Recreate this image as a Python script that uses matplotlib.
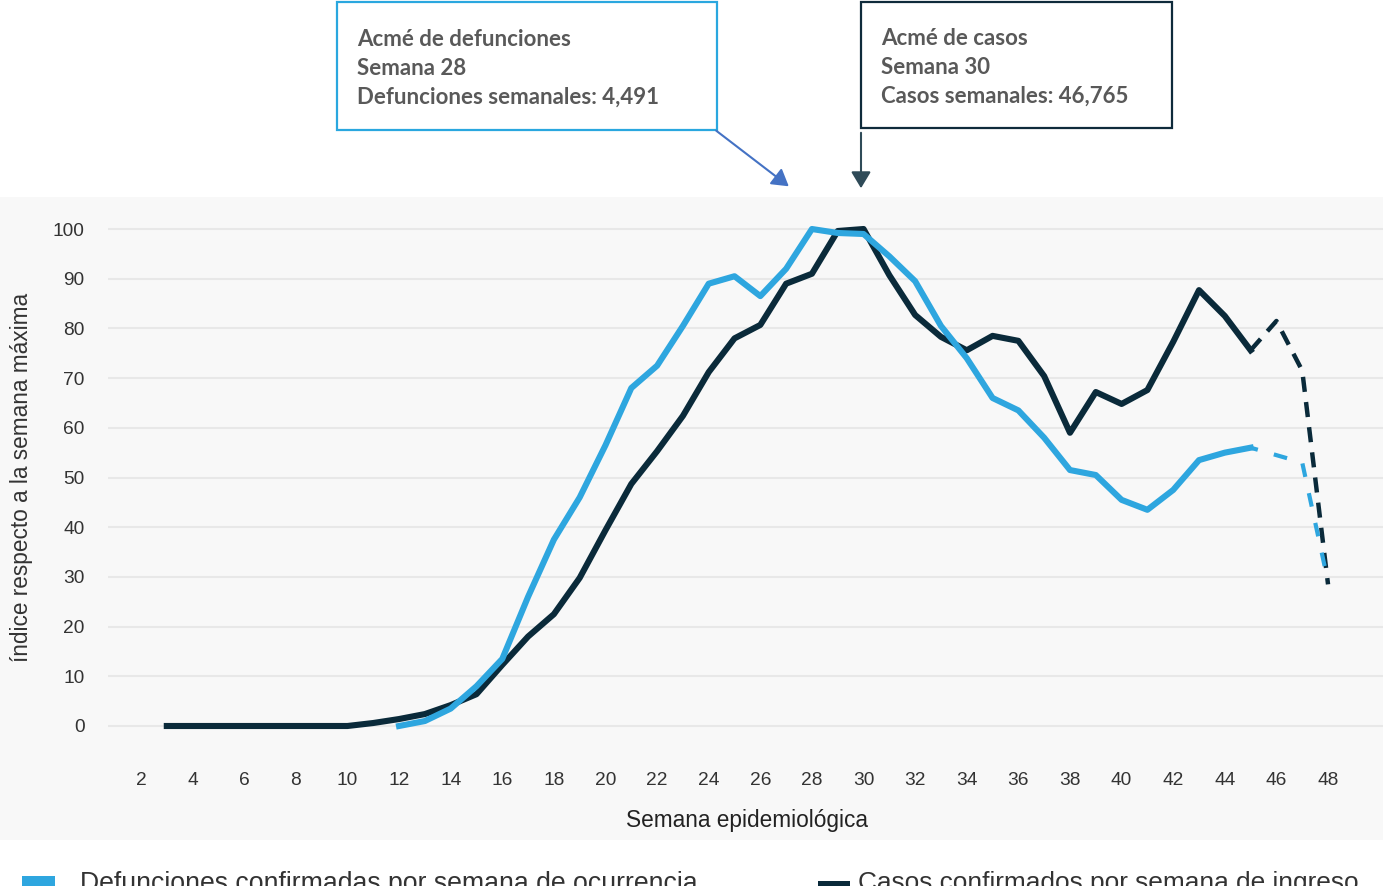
import matplotlib
matplotlib.use("Agg")
import matplotlib.pyplot as plt
from matplotlib.patches import Rectangle, FancyArrowPatch

W, H = 1383, 886

# datos: índice respecto a la semana máxima
semanas_casos = list(range(3, 46))
casos = [0, 0, 0, 0, 0, 0, 0, 0,
         0.6, 1.4, 2.4, 4.2, 6.4, 12.3, 18, 22.5, 29.8, 39.4,
         48.7, 55.3, 62.4, 71.2, 78, 80.7, 89, 91, 99.6, 100,
         90.7, 82.7, 78.3, 75.6, 78.5, 77.5, 70.4, 59, 67.2, 64.8,
         67.6, 77.3, 87.7, 82.5, 75.6]
semanas_casos_prelim = [45, 46, 47, 48]
casos_prelim = [75.6, 81.5, 71.5, 28.5]

semanas_def = list(range(12, 46))
defunciones = [0, 1, 3.5, 8, 13.5, 26, 37.5, 46, 56.5, 68,
               72.5, 80.5, 89, 90.5, 86.5, 92, 100, 99.2, 99, 94.5,
               89.5, 80.5, 74, 66, 63.5, 58, 51.5, 50.5, 45.5, 43.5,
               47.5, 53.5, 55, 56]
semanas_def_prelim = [45, 46, 47, 48]
defunciones_prelim = [56, 54.5, 53, 29]

AZUL = "#2ea6df"
OSCURO = "#0a2a3a"
GRIS_TXT = "#595959"


def px(x, y):
    # pixeles de la imagen -> fraccion de figura
    return x / W, 1 - y / H


fig = plt.figure(figsize=(W / 100, H / 100), dpi=100, facecolor="white")

# fondo gris del area del grafico
fig.patches.append(Rectangle(px(0, 840), 1, (840 - 197) / H, transform=fig.transFigure,
                             facecolor="#f8f8f8", edgecolor="none", zorder=-5))

ax = fig.add_axes([108 / W, 1 - 750 / H, (W - 108) / W, 535 / H])
ax.set_facecolor("none")
ax.set_xlim(0.721, 50.13)
ax.set_ylim(-4.83, 102.82)

ax.plot(semanas_casos, casos, color=OSCURO, lw=4.4, solid_joinstyle="round", zorder=3)
ax.plot(semanas_casos_prelim, casos_prelim, color=OSCURO, lw=3.2, ls=(0, (3.4, 2.3)), zorder=3)
ax.plot(semanas_def, defunciones, color=AZUL, lw=4.4, solid_joinstyle="round", zorder=4)
ax.plot(semanas_def_prelim, defunciones_prelim, color=AZUL, lw=3, ls=(1.5, (3.3, 4)), zorder=4)

ax.set_xticks(range(2, 49, 2))
ax.set_yticks(range(0, 101, 10))
ax.tick_params(axis="both", length=0, labelsize=13.8, labelcolor="#333333")
ax.tick_params(axis="x", pad=16)
ax.tick_params(axis="y", pad=17)
for lab in ax.get_xticklabels() + ax.get_yticklabels():
    lab.set_family("Liberation Sans")
ax.grid(axis="y", color="#e8e8e8", lw=1.5)
ax.grid(axis="x", visible=False)
for s in ax.spines.values():
    s.set_visible(False)

fig.text(*px(22, 477), "índice respecto a la semana máxima", rotation=90, ha="center", va="center",
         fontsize=16.3, family="Liberation Sans", color="#333333")
fig.text(*px(747, 820), "Semana epidemiológica", ha="center", va="center",
         fontsize=16.3, family="Liberation Sans", color="#222222")

# cuadros de anotacion
fig.patches.append(Rectangle(px(337, 130), 380 / W, 128 / H, transform=fig.transFigure,
                             facecolor="white", edgecolor="#2aa7df", lw=1.6, zorder=2))
fig.patches.append(Rectangle(px(861, 128), 311 / W, 126 / H, transform=fig.transFigure,
                             facecolor="white", edgecolor="#0f2b3b", lw=1.6, zorder=2))

lineas1 = ["Acmé de defunciones", "Semana 28", "Defunciones semanales: 4,491"]
for i, t in enumerate(lineas1):
    fig.text(*px(357, 46 + 29 * i), t, ha="left", va="baseline", fontsize=16,
             family="Lato", weight="bold", color=GRIS_TXT, zorder=3)
lineas2 = ["Acmé de casos", "Semana 30", "Casos semanales: 46,765"]
for i, t in enumerate(lineas2):
    fig.text(*px(881, 45 + 29 * i), t, ha="left", va="baseline", fontsize=16,
             family="Lato", weight="bold", color=GRIS_TXT, zorder=3)

fig.patches.append(FancyArrowPatch(px(714, 129), px(791, 188), transform=fig.transFigure,
                                   arrowstyle="-|>,head_length=10,head_width=6",
                                   color="#4472c4", lw=1.5, mutation_scale=1, zorder=3))
fig.patches.append(FancyArrowPatch(px(861, 130), px(861, 191), transform=fig.transFigure,
                                   arrowstyle="-|>,head_length=10,head_width=6",
                                   color="#2f4b58", lw=1.5, mutation_scale=1, zorder=3))

# leyenda (cortada por el borde inferior, como en el original)
fig.patches.append(Rectangle(px(22, 900), 33 / W, 24 / H, transform=fig.transFigure,
                             facecolor=AZUL, edgecolor="none"))
fig.patches.append(Rectangle(px(818, 900), 32 / W, 19 / H, transform=fig.transFigure,
                             facecolor=OSCURO, edgecolor="none"))
fig.text(*px(80, 871), "Defunciones confirmadas por semana de ocurrencia", ha="left", va="top",
         fontsize=19.2, family="Liberation Sans", color="#333333")
fig.text(*px(858, 871), "Casos confirmados por semana de ingreso", ha="left", va="top",
         fontsize=18.9, family="Liberation Sans", color="#333333")

fig.savefig("out.png", dpi=100, facecolor="white")
